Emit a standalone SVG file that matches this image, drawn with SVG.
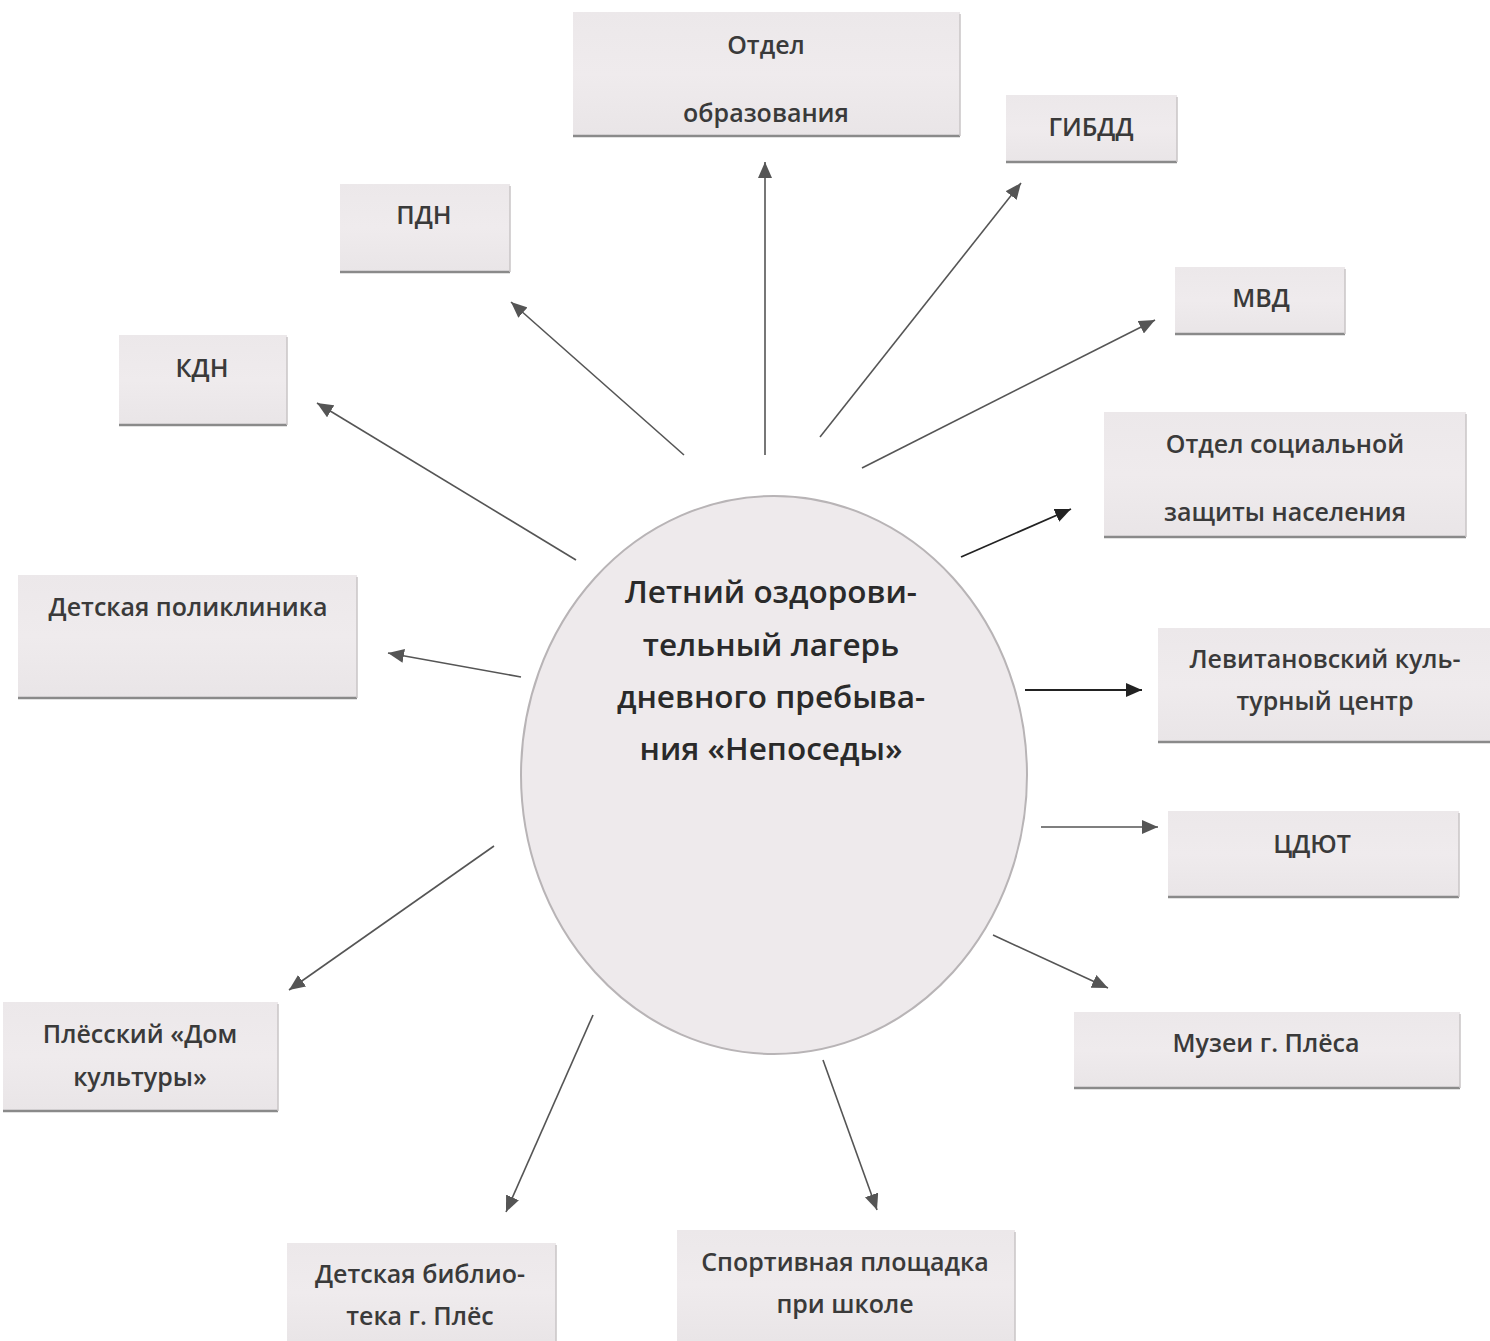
<svg xmlns="http://www.w3.org/2000/svg" width="1490" height="1341" viewBox="0 0 1490 1341">
<defs>
<marker id="ah" markerUnits="userSpaceOnUse" markerWidth="18" markerHeight="14" refX="16" refY="7" orient="auto">
<path d="M0,0 L16,7 L0,14 z" fill="#555"/>
</marker>
<marker id="ahk" markerUnits="userSpaceOnUse" markerWidth="18" markerHeight="14" refX="16" refY="7" orient="auto">
<path d="M0,0 L16,7 L0,14 z" fill="#222"/>
</marker>
<linearGradient id="bg" x1="0" y1="0" x2="0" y2="1">
<stop offset="0" stop-color="#ece8ea"/>
<stop offset="0.5" stop-color="#efebed"/>
<stop offset="1" stop-color="#e9e5e7"/>
</linearGradient>
</defs>
<style>
.box{fill:url(#bg);stroke:none}
.sh{stroke:#8a8a8a;stroke-width:2.5;fill:none}
.sr{stroke:#c8c4c6;stroke-width:1.5;fill:none}
.t{font-family:"Open Sans","Noto Sans","DejaVu Sans",sans-serif;font-size:25px;font-weight:600;fill:#3a3a3a;text-anchor:middle;dominant-baseline:central}
.tc{font-family:"Open Sans","Noto Sans","DejaVu Sans",sans-serif;font-size:31.5px;font-weight:600;fill:#2a2a2a;text-anchor:middle;dominant-baseline:central}
.c{stroke:#555;stroke-width:1.6;fill:none;marker-end:url(#ah)}
.ck{stroke:#222;stroke-width:1.8;fill:none;marker-end:url(#ahk)}
</style>
<rect width="1490" height="1341" fill="#ffffff"/>

<g id="connectors">
<line class="c" x1="765" y1="455" x2="765" y2="162"/>
<line class="c" x1="820" y1="437" x2="1021" y2="183"/>
<line class="c" x1="862" y1="468" x2="1155" y2="320"/>
<line class="ck" x1="961" y1="557" x2="1071" y2="509"/>
<line class="ck" x1="1025" y1="690" x2="1142" y2="690"/>
<line class="c" x1="1041" y1="827" x2="1158" y2="827"/>
<line class="c" x1="993" y1="935" x2="1108" y2="988"/>
<line class="c" x1="823" y1="1060" x2="877" y2="1210"/>
<line class="c" x1="593" y1="1015" x2="506" y2="1212"/>
<line class="c" x1="494" y1="846" x2="289" y2="990"/>
<line class="c" x1="521" y1="677" x2="388" y2="653"/>
<line class="c" x1="576" y1="560" x2="317" y2="403"/>
<line class="c" x1="684" y1="455" x2="511" y2="302"/>
</g>

<g id="center">
<ellipse cx="774" cy="775" rx="253" ry="279" fill="#eeeaec" stroke="#b8b4b6" stroke-width="2"/>
<text class="tc" x="771" y="590">Летний оздорови-</text>
<text class="tc" x="771" y="643">тельный лагерь</text>
<text class="tc" x="771" y="695">дневного пребыва-</text>
<text class="tc" x="771" y="747">ния «Непоседы»</text>
</g>

<g id="n-otdel-obr">
<rect class="box" x="573" y="12" width="387" height="124"/>
<line class="sh" x1="573" y1="136" x2="960" y2="136"/>
<line class="sr" x1="960" y1="14" x2="960" y2="136"/>
<text class="t" x="766" y="44">Отдел</text>
<text class="t" x="766" y="112">образования</text>
</g>

<g id="n-gibdd">
<rect class="box" x="1006" y="95" width="171" height="67"/>
<line class="sh" x1="1006" y1="162" x2="1177" y2="162"/>
<line class="sr" x1="1177" y1="97" x2="1177" y2="162"/>
<text class="t" x="1091" y="126">ГИБДД</text>
</g>

<g id="n-pdn">
<rect class="box" x="340" y="184" width="170" height="88"/>
<line class="sh" x1="340" y1="272" x2="510" y2="272"/>
<line class="sr" x1="510" y1="186" x2="510" y2="272"/>
<text class="t" x="424" y="214">ПДН</text>
</g>

<g id="n-mvd">
<rect class="box" x="1175" y="267" width="170" height="67"/>
<line class="sh" x1="1175" y1="334" x2="1345" y2="334"/>
<line class="sr" x1="1345" y1="269" x2="1345" y2="334"/>
<text class="t" x="1261" y="297">МВД</text>
</g>

<g id="n-kdn">
<rect class="box" x="119" y="335" width="168" height="90"/>
<line class="sh" x1="119" y1="425" x2="287" y2="425"/>
<line class="sr" x1="287" y1="337" x2="287" y2="425"/>
<text class="t" x="202" y="367">КДН</text>
</g>

<g id="n-soc">
<rect class="box" x="1104" y="412" width="362" height="125"/>
<line class="sh" x1="1104" y1="537" x2="1466" y2="537"/>
<line class="sr" x1="1466" y1="414" x2="1466" y2="537"/>
<text class="t" x="1285" y="443">Отдел социальной</text>
<text class="t" x="1285" y="511">защиты населения</text>
</g>

<g id="n-poliklinika">
<rect class="box" x="18" y="575" width="339" height="123"/>
<line class="sh" x1="18" y1="698" x2="357" y2="698"/>
<line class="sr" x1="357" y1="577" x2="357" y2="698"/>
<text class="t" x="188" y="606">Детская поликлиника</text>
</g>

<g id="n-levitan">
<rect class="box" x="1158" y="628" width="332" height="114"/>
<line class="sh" x1="1158" y1="742" x2="1490" y2="742"/>
<text class="t" x="1325" y="658">Левитановский куль-</text>
<text class="t" x="1325" y="700">турный центр</text>
</g>

<g id="n-cdyut">
<rect class="box" x="1168" y="811" width="291" height="86"/>
<line class="sh" x1="1168" y1="897" x2="1459" y2="897"/>
<line class="sr" x1="1459" y1="813" x2="1459" y2="897"/>
<text class="t" x="1312" y="843">ЦДЮТ</text>
</g>

<g id="n-dom-kultury">
<rect class="box" x="3" y="1002" width="275" height="109"/>
<line class="sh" x1="3" y1="1111" x2="278" y2="1111"/>
<line class="sr" x1="278" y1="1004" x2="278" y2="1111"/>
<text class="t" x="140" y="1033">Плёсский «Дом</text>
<text class="t" x="140" y="1076">культуры»</text>
</g>

<g id="n-muzei">
<rect class="box" x="1074" y="1012" width="386" height="76"/>
<line class="sh" x1="1074" y1="1088" x2="1460" y2="1088"/>
<line class="sr" x1="1460" y1="1014" x2="1460" y2="1088"/>
<text class="t" x="1266" y="1042">Музеи г. Плёса</text>
</g>

<g id="n-biblioteka">
<rect class="box" x="287" y="1243" width="269" height="98"/>
<line class="sr" x1="556" y1="1245" x2="556" y2="1341"/>
<text class="t" x="420" y="1273">Детская библио-</text>
<text class="t" x="420" y="1315">тека г. Плёс</text>
</g>

<g id="n-sport">
<rect class="box" x="677" y="1230" width="338" height="111"/>
<line class="sr" x1="1015" y1="1232" x2="1015" y2="1341"/>
<text class="t" x="845" y="1261">Спортивная площадка</text>
<text class="t" x="845" y="1303">при школе</text>
</g>
</svg>
